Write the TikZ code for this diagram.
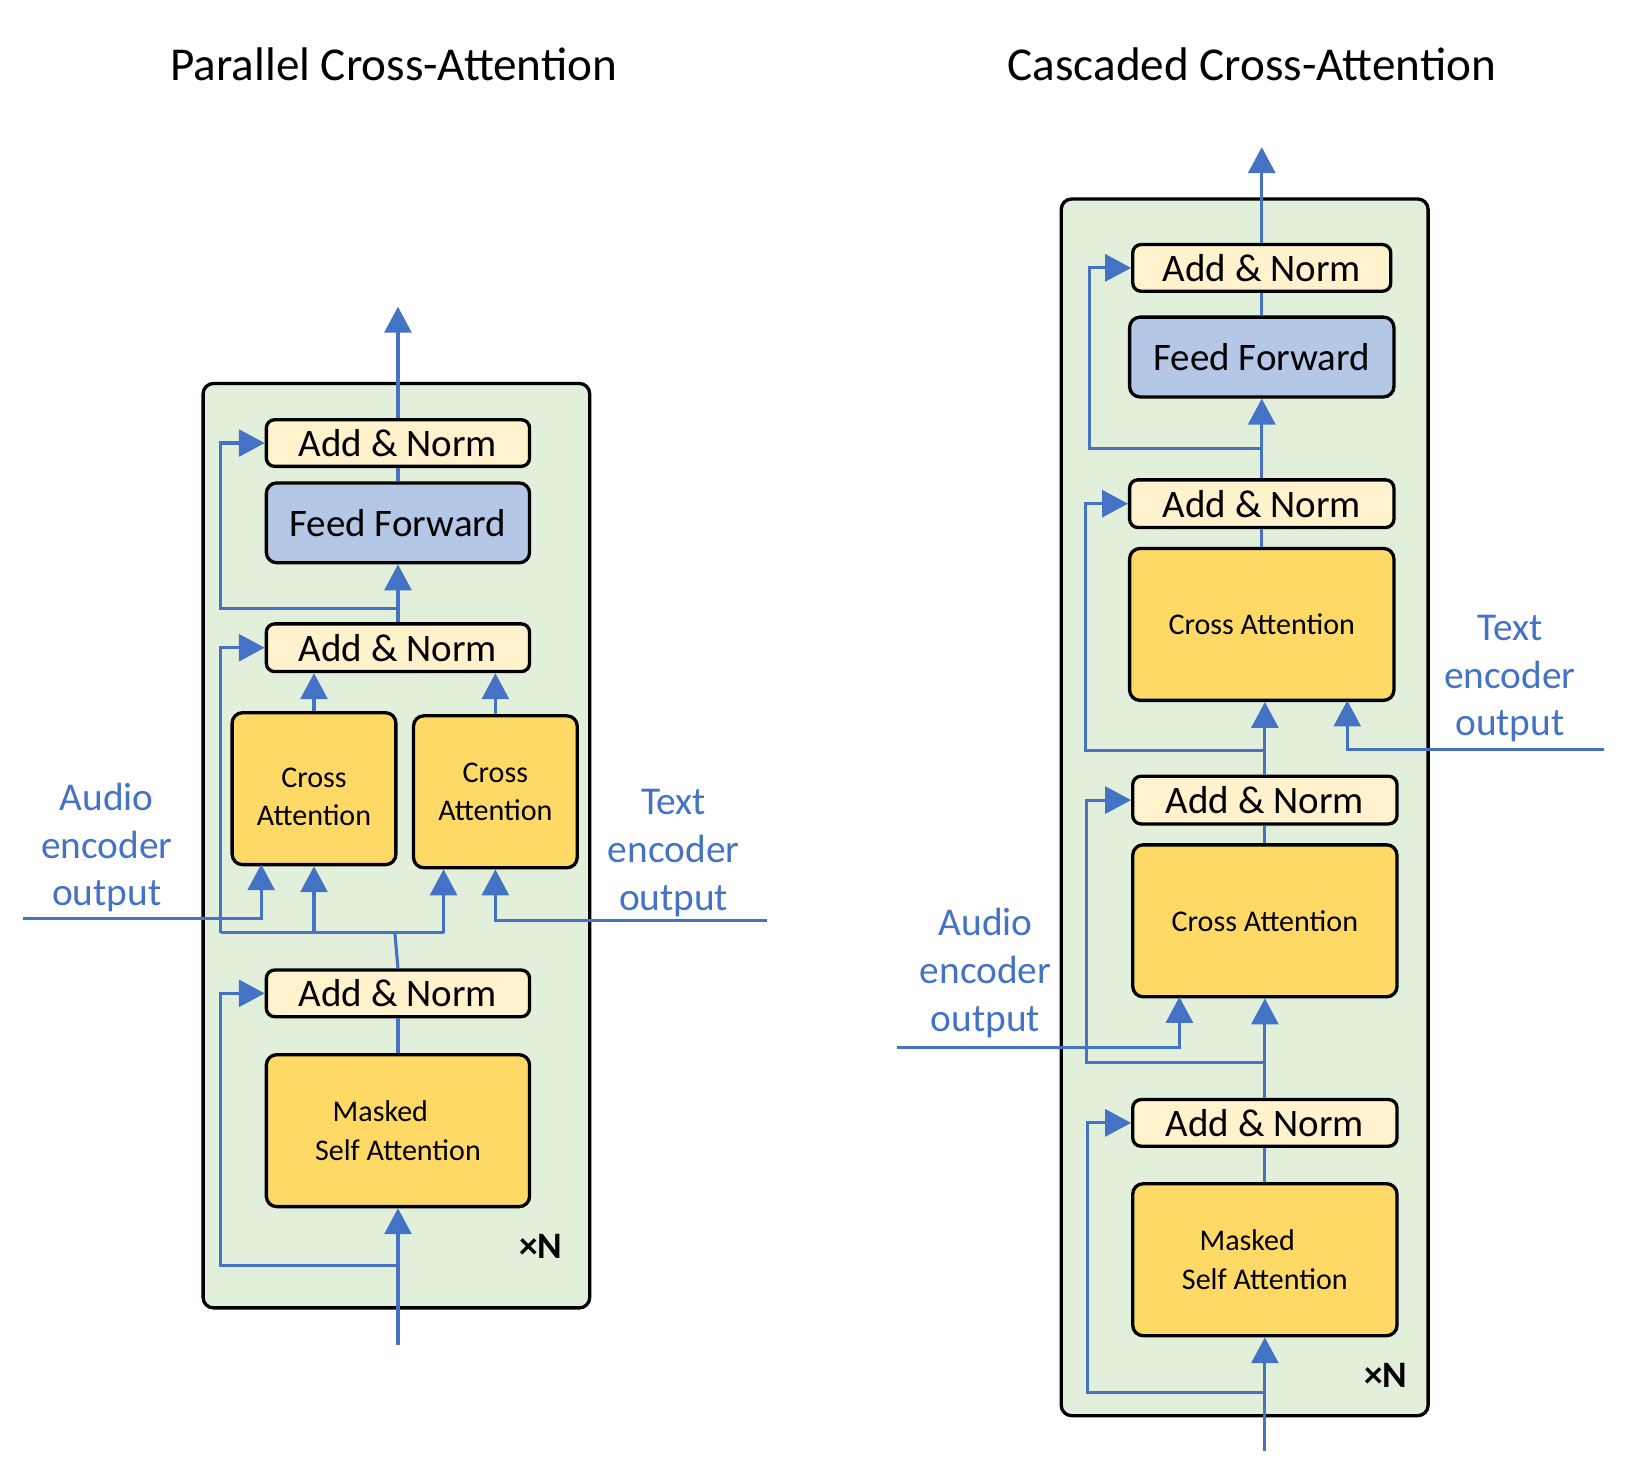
\documentclass[tikz,border=0pt]{standalone}
\usepackage{fontspec}
\setmainfont{Carlito}
\usetikzlibrary{arrows.meta,calc}
\definecolor{bgreen}{HTML}{E2EFDA}
\definecolor{anfill}{HTML}{FFF2CC}
\definecolor{fffill}{HTML}{B4C7E7}
\definecolor{cafill}{HTML}{FFD966}
\definecolor{lblue}{HTML}{4472C4}
\begin{document}
\begin{tikzpicture}[x=0.5pt,y=-0.5pt,
  outerbox/.style={draw=black, line width=1.6pt, fill=bgreen, rounded corners=5pt, inner sep=0pt},
  anbox/.style={draw=black, line width=1.6pt, fill=anfill, rounded corners=4pt, inner sep=0pt, minimum height=22.5pt, font=\fontsize{18.8}{22}\selectfont},
  ffbox/.style={draw=black, line width=1.6pt, fill=fffill, rounded corners=5pt, inner sep=0pt, minimum height=38.5pt, font=\fontsize{18.8}{22}\selectfont},
  cabox/.style={draw=black, line width=1.6pt, fill=cafill, rounded corners=5pt, inner sep=0pt, minimum height=73.3pt, align=center, font=\fontsize{14.5}{18.5}\selectfont},
  flow/.style={draw=lblue, line width=1.5pt},
  arr/.style={flow, -{Triangle[width=13pt,length=12.5pt]}},
  lbl/.style={text=lblue, align=center, font=\fontsize{19}{23}\selectfont},
  ttl/.style={font=\fontsize{22.75}{27}\selectfont},
  xn/.style={font=\fontsize{18}{20}\selectfont\bfseries}
]
\useasboundingbox (0,0) rectangle (1568,1420);

% ---------------- Left: Parallel ----------------
\node[ttl] (tL) at (380,62) {Parallel Cross-Attention};
\node[outerbox, minimum width=186.5pt, minimum height=446pt] (oL) at (382.5,816) {};
\node[anbox, minimum width=127pt] (L_an3) at (384,427.5) {Add \& Norm};
\node[ffbox, minimum width=127pt] (L_ff) at (384,504.5) {Feed Forward};
\node[anbox, minimum width=127pt, minimum height=23pt] (L_an2) at (384,625) {Add \& Norm};
\node[cabox, minimum width=79pt] (L_caA) at (303,761) {\raisebox{-5pt}[\height][\depth]{\begin{tabular}{@{}c@{}}Cross\\Attention\end{tabular}}};
\node[cabox, minimum width=79pt] (L_caT) at (478,764) {Cross\\Attention};
\node[anbox, minimum width=127pt] (L_an1) at (384,958.5) {Add \& Norm};
\node[cabox, minimum width=127pt] (L_msa) at (384,1091) {Masked\rule{17pt}{0pt}\\Self Attention};
\node[xn] (L_xn) at (522,1203) {×N};
\node[lbl] (L_al) at (103,818) {Audio\\encoder\\output};
\node[lbl] (L_tl) at (650,823) {Text\\encoder\\output};

\coordinate (L_out) at (384,296);
\coordinate (L_r3) at (384,587);
\coordinate (L_br) at (381,900);
\coordinate (L_bl) at (213,900);
\coordinate (L_brr) at (428,900);
\coordinate (L_audio) at (22,886);
\coordinate (L_ain) at (252,834);
\coordinate (L_text) at (740,888);
\coordinate (L_in) at (384,1298);
\coordinate (L_r1) at (384,1221);

\draw[arr] (L_an3.north) -- (L_out);
\draw[flow] (L_an3.south) -- (L_ff.north);
\draw[arr] (L_an2.north) -- (L_ff.south);
\draw[arr] (L_r3) -- ++(-171,0) |- (L_an3.west);
\draw[arr] (L_caA.north) -- (L_caA.north |- L_an2.south);
\draw[arr] (L_caT.north) -- (L_caT.north |- L_an2.south);
\draw[flow] (L_an1.north) -- (L_br);
\draw[flow] (L_bl) -- (L_brr);
\draw[arr] (L_bl) |- (L_an2.west);
\draw[arr] (L_caA.south |- L_bl) -- (L_caA.south);
\draw[arr] (L_brr) -- (L_brr |- L_caT.south);
\draw[arr] (L_audio) -| (L_ain);
\draw[arr] (L_text) -| (L_caT.south);
\draw[flow] (L_an1.south) -- (L_msa.north);
\draw[arr] (L_in) -- (L_msa.south);
\draw[arr] (L_r1) -- ++(-171,0) |- (L_an1.west);

% ---------------- Right: Cascaded ----------------
\node[ttl] (tR) at (1208,62) {Cascaded Cross-Attention};
\node[outerbox, minimum width=177pt, minimum height=587pt] (oR) at (1201,779) {};
\node[anbox, minimum width=124.5pt] (R_an4) at (1217.5,258.5) {Add \& Norm};
\node[ffbox, minimum width=127.5pt] (R_ff) at (1217.5,344.5) {Feed Forward};
\node[anbox, minimum width=127.5pt, minimum height=23pt] (R_an3) at (1217.5,486) {Add \& Norm};
\node[cabox, minimum width=127.5pt] (R_caT) at (1217.5,602.5) {Cross Attention};
\node[anbox, minimum width=127.5pt, minimum height=23pt] (R_an2) at (1220.5,772) {Add \& Norm};
\node[cabox, minimum width=127.5pt] (R_caA) at (1220.5,888.5) {Cross Attention};
\node[anbox, minimum width=127.5pt] (R_an1) at (1220.5,1083.5) {Add \& Norm};
\node[cabox, minimum width=127.5pt] (R_msa) at (1220.5,1215.5) {Masked\rule{17pt}{0pt}\\Self Attention};
\node[xn] (R_xn) at (1337,1327) {×N};
\node[lbl] (R_tl) at (1457,655) {Text\\encoder\\output};
\node[lbl] (R_al) at (951,939) {Audio\\encoder\\output};

\coordinate (R_out) at (1217.5,142);
\coordinate (R_r3) at (1217.5,433);
\coordinate (R_text) at (1548,723);
\coordinate (R_tin) at (1300,676);
\coordinate (R_r2) at (1220.5,724);
\coordinate (R_audio) at (866,1011);
\coordinate (R_ain) at (1138,962);
\coordinate (R_r1) at (1220.5,1025);
\coordinate (R_in) at (1220.5,1400);
\coordinate (R_r0) at (1220.5,1344);

\draw[arr] (R_an4.north) -- (R_out);
\draw[flow] (R_an4.south) -- (R_ff.north);
\draw[arr] (R_an3.north) -- (R_ff.south);
\draw[arr] (R_r3) -- ++(-166.5,0) |- (R_an4.west);
\draw[flow] (R_an3.south) -- (R_caT.north);
\draw[arr] (R_an2.north) -- (R_an2.north |- R_caT.south);
\draw[arr] (R_text) -| (R_tin);
\draw[arr] (R_r2) -- ++(-173.5,0) |- (R_an3.west);
\draw[flow] (R_an2.south) -- (R_caA.north);
\draw[arr] (R_an1.north) -- (R_caA.south);
\draw[arr] (R_audio) -| (R_ain);
\draw[arr] (R_r1) -- ++(-172.5,0) |- (R_an2.west);
\draw[flow] (R_an1.south) -- (R_msa.north);
\draw[arr] (R_in) -- (R_msa.south);
\draw[arr] (R_r0) -- ++(-171.5,0) |- (R_an1.west);
\end{tikzpicture}
\end{document}
